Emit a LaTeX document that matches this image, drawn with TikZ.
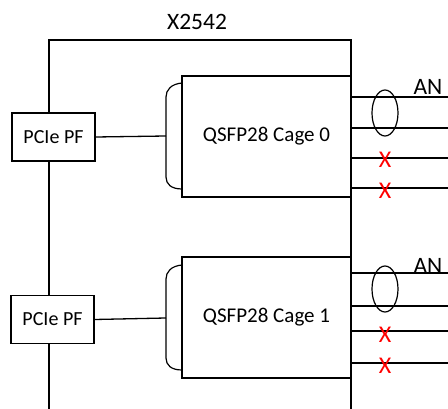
\documentclass[tikz,border=0pt]{standalone}
\usepackage{fontspec}
\setmainfont{Carlito}
\usetikzlibrary{positioning}

\tikzset{
  pfbox/.style={draw,fill=white,minimum width=83pt,minimum height=48pt,inner sep=0pt,font=\fontsize{20}{24}\selectfont},
  cagebox/.style={draw,fill=white,minimum width=169pt,minimum height=121pt,inner sep=0pt,font=\fontsize{21}{25}\selectfont},
  redx/.style={text=red,inner sep=0pt,font=\fontsize{24}{28}\selectfont},
  bigtext/.style={inner sep=0pt,font=\fontsize{23.5}{27}\selectfont}
}

\begin{document}
\begin{tikzpicture}[x=1pt,y=-1pt,line width=1.3pt]
  \useasboundingbox (0,0) rectangle (448,409);
  % card outline
  \draw (49,409)--(49,40)--(351,40)--(351,409);
  \node[bigtext] (card) at (197,22) {X2542};

  % physical functions
  \node[pfbox] (pf0) at (53.5,137) {PCIe PF};
  \node[pfbox] (pf1) at (52.5,319.5) {PCIe PF};

  % cages
  \node[cagebox] (cage0) at (266.5,136.5) {QSFP28 Cage 0};
  \node[cagebox] (cage1) at (266.5,317.5) {QSFP28 Cage 1};

  % connector brackets
  \coordinate (br0) at (166,136);
  \coordinate (br1) at (166,318);
  \draw[line width=1.2pt](182,83)..controls(171,84)and(166,90)..(166,97)--(166,177)..controls(166,184)and(171,189)..(182,189);
  \draw[line width=1.2pt](182,265)..controls(171,266)and(166,272)..(166,279)--(166,358)..controls(166,365)and(171,370)..(182,370);
  \draw (pf0.east)--(br0);
  \draw (pf1.east)--(br1);

  % lanes of cage 0
  \foreach \y in {97,128,158,188}
    \draw (351,\y)--(448,\y);
  \draw[line width=1.2pt](385,113)ellipse(13 and 23);
  \node[bigtext] (an0) at (428,87) {AN};
  \node[redx] (x00) at (385,160) {X};
  \node[redx] (x01) at (385,191) {X};

  % lanes of cage 1
  \foreach \y in {273,306,331,363}
    \draw (351,\y)--(448,\y);
  \draw[line width=1.2pt](385,289)ellipse(13 and 23);
  \node[bigtext] (an1) at (428,266) {AN};
  \node[redx] (x10) at (385,335) {X};
  \node[redx] (x11) at (385,366) {X};
\end{tikzpicture}
\end{document}
